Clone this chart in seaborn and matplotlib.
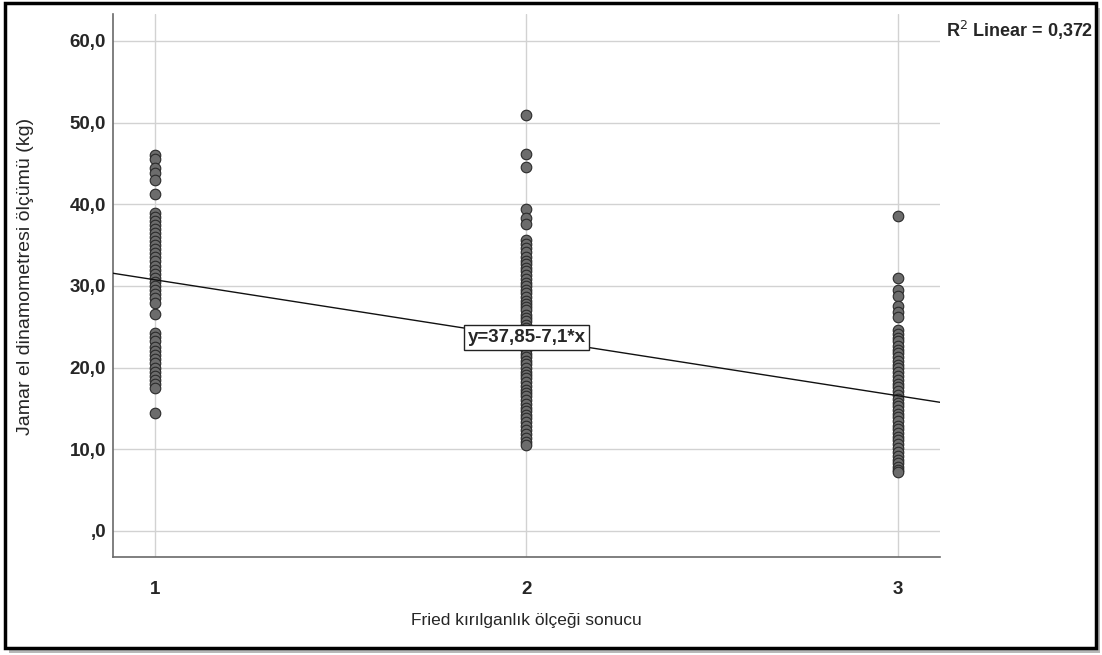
import numpy as np
import pandas as pd
import matplotlib
matplotlib.use("Agg")
import matplotlib.pyplot as plt
import seaborn as sns
from matplotlib.patches import Rectangle
from matplotlib.ticker import FuncFormatter

# Jamar grip strength (kg) per Fried frailty score
group1 = [46.0, 45.5, 44.5, 43.8, 43.0, 41.3, 38.9, 38.5, 38.0, 37.5, 37.0, 36.5,
          36.0, 35.5, 35.0, 34.5, 34.0, 33.5, 33.0, 32.5, 32.0, 31.5, 31.0, 30.5,
          30.0, 29.5, 29.0, 28.5, 27.9, 26.6, 24.2, 23.8, 23.2, 22.5, 22.0, 21.5,
          21.0, 20.5, 20.0, 19.5, 19.0, 18.5, 18.0, 17.5, 14.4]
group2 = [50.9, 46.1, 44.6, 39.4, 38.3, 37.6, 35.6, 35.1, 34.6, 34.2, 33.6, 33.1,
          32.7, 32.2, 31.8, 31.3, 30.9, 30.4, 30.0, 29.5, 29.1, 28.6, 28.2, 27.8,
          27.4, 27.0, 26.5, 26.1, 25.7, 25.2, 24.8, 24.3, 23.9, 23.4, 23.0, 22.6,
          22.1, 21.7, 21.3, 20.8, 20.4, 20.0, 19.5, 19.1, 18.7, 18.2, 17.8, 17.3,
          16.9, 16.5, 16.0, 15.6, 15.1, 14.7, 14.2, 13.8, 13.3, 12.9, 12.4, 11.9,
          11.4, 10.9, 10.5]
group3 = [38.6, 31.0, 29.5, 28.8, 27.6, 26.8, 26.2, 24.6, 24.1, 23.6, 23.2, 22.7,
          22.2, 21.8, 21.3, 20.8, 20.3, 19.9, 19.4, 19.0, 18.5, 18.0, 17.6, 17.1,
          16.6, 16.2, 15.7, 15.3, 14.8, 14.3, 13.9, 13.4, 12.9, 12.5, 12.0, 11.5,
          11.1, 10.6, 10.1, 9.7, 9.2, 8.7, 8.3, 7.8, 7.5, 7.2]

fried_scores = [1, 2, 3]
intercept = 37.85
slope = -7.1
r2_text = "R$^2$ Linear = 0,372"
eq_text = "y=37,85-7,1*x"

df = pd.DataFrame({
    "fried": [1] * len(group1) + [2] * len(group2) + [3] * len(group3),
    "jamar": group1 + group2 + group3,
})

sns.set_style("white")
plt.rcParams["font.family"] = ["Liberation Sans", "DejaVu Sans"]

fig = plt.figure(figsize=(11.02, 6.55), dpi=100)
ax = fig.add_axes([0.1025, 0.1496, 0.7505, 0.829])

xlim = (0.887, 3.113)
ylim = (-3.2, 63.3)
ax.set_xlim(*xlim)
ax.set_ylim(*ylim)

# grid first so it sits under the points
ax.set_xticks(fried_scores)
ax.set_yticks([0, 10, 20, 30, 40, 50, 60])
ax.grid(True, color="#d2d2d2", lw=1.0)
ax.set_axisbelow(True)

sns.scatterplot(data=df, x="fried", y="jamar", ax=ax, s=58,
                color="#6c6c6c", edgecolor="#2a2a2a", linewidth=0.8, zorder=3)

xs = np.array(xlim)
ax.plot(xs, intercept + slope * xs, color="#111111", lw=1.0, zorder=4)

ax.text(2.0, 23.7, eq_text, ha="center", va="center", fontsize=13.5,
        fontweight="bold", zorder=5,
        bbox=dict(boxstyle="square,pad=0.2", fc="white", ec="#222222", lw=1.0))

ax.yaxis.set_major_formatter(FuncFormatter(
    lambda v, p: ("%.1f" % v).replace(".", ",").lstrip("0") if v == 0 else ("%.1f" % v).replace(".", ",")))

for s in ["top", "right"]:
    ax.spines[s].set_visible(False)
for s in ["left", "bottom"]:
    ax.spines[s].set_color("#6a6a6a")
    ax.spines[s].set_linewidth(1.2)

ax.tick_params(axis="x", length=0, pad=17, labelsize=13.5)
ax.tick_params(axis="y", length=0, pad=5, labelsize=13.5)
for lab in ax.get_xticklabels() + ax.get_yticklabels():
    lab.set_fontweight("bold")

ax.set_xlabel("Fried kırılganlık ölçeği sonucu", fontsize=12.5, labelpad=11)
ax.set_ylabel("Jamar el dinamometresi ölçümü (kg)", fontsize=14)
ax.yaxis.set_label_coords(-0.095, 0.517)

fig.text(0.858, 0.953, r2_text, fontsize=13, fontweight="bold", ha="left", va="center")

# outer frame with a soft shadow
fig.patches.append(Rectangle((0.008, 0.003), 0.99, 0.985, transform=fig.transFigure,
                             fc="#b8b8b8", ec="none", zorder=-2))
fig.patches.append(Rectangle((0.0045, 0.0107), 0.99, 0.985, transform=fig.transFigure,
                             fc="white", ec="black", lw=2.5, zorder=-1))

fig.savefig("out.png", dpi=100)
